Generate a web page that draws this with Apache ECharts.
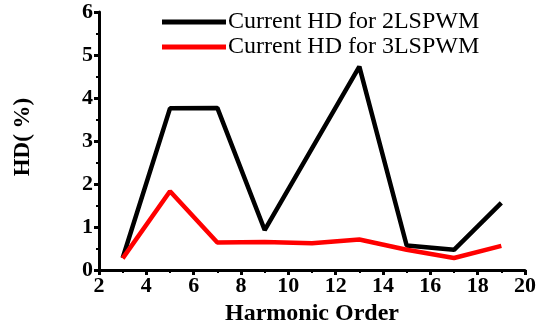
<!DOCTYPE html>
<html><head><meta charset="utf-8">
<script src="https://cdn.jsdelivr.net/npm/echarts@6/dist/echarts.min.js"></script>
<style>html,body{margin:0;padding:0;background:#fff}#c{width:544px;height:324px}</style>
</head><body><div id="c"></div>
<script>
const harmonics = [3, 5, 7, 9, 11, 13, 15, 17, 19];
const hd2L = [0.28, 3.76, 3.77, 0.93, 2.83, 4.73, 0.57, 0.47, 1.56];
const hd3L = [0.27, 1.83, 0.64, 0.65, 0.62, 0.71, 0.47, 0.28, 0.56];
const seriesNames = ['Current HD for 2LSPWM', 'Current HD for 3LSPWM'];
const xTitle = 'Harmonic Order';
const yTitle = 'HD( %)';

const chart = echarts.init(document.getElementById('c'));
const font = 'Liberation Serif';
function pts(v){ return harmonics.map((h,i)=>[h, v[i]]); }
chart.setOption({
  animation: false,
  backgroundColor: '#fff',
  grid: {left: 99, right: 19, top: 12, bottom: 54, outerBoundsMode: 'none', containLabel: false},
  legend: {
    orient: 'vertical', left: 162, top: 10, padding: 0, itemWidth: 64, itemHeight: 5, itemGap: 1,
    icon: 'rect',
    textStyle: {fontFamily: font, fontSize: 24, color: '#000', padding: [0,0,0,-3]},
    data: seriesNames
  },
  xAxis: {
    type: 'value', min: 2, max: 20, interval: 2,
    name: xTitle, nameLocation: 'middle', nameGap: 30,
    nameTextStyle: {fontFamily: font, fontSize: 24, fontWeight: 'bold', color: '#000'},
    axisLine: {lineStyle: {color: '#000', width: 3}},
    axisTick: {show: true, length: 5, lineStyle: {width: 3, color: '#000'}},
    minorTick: {show: true, splitNumber: 2, length: 3, lineStyle: {width: 2, color: '#000'}},
    axisLabel: {fontFamily: font, fontSize: 22, fontWeight: 'bold', color: '#000', margin: 5},
    splitLine: {show: false}
  },
  yAxis: {
    type: 'value', min: 0, max: 6, interval: 1,
    name: yTitle, nameLocation: 'middle', nameGap: 64, nameRotate: 90,
    nameTextStyle: {fontFamily: font, fontSize: 23, fontWeight: 'bold', color: '#000', padding: [0,0,0,8]},
    axisLine: {show: true, lineStyle: {color: '#000', width: 3}},
    axisTick: {show: true, length: 5, lineStyle: {width: 3, color: '#000'}},
    minorTick: {show: true, splitNumber: 2, length: 3, lineStyle: {width: 2, color: '#000'}},
    axisLabel: {fontFamily: font, fontSize: 22, fontWeight: 'bold', color: '#000', margin: 6},
    splitLine: {show: false}
  },
  series: [
    {name: seriesNames[0], type: 'line', data: pts(hd2L), symbol: 'none', color: '#000',
     lineStyle: {width: 4.5, color: '#000'}},
    {name: seriesNames[1], type: 'line', data: pts(hd3L), symbol: 'none', color: '#ff0000',
     lineStyle: {width: 4.5, color: '#ff0000'}}
  ]
});
</script></body></html>
